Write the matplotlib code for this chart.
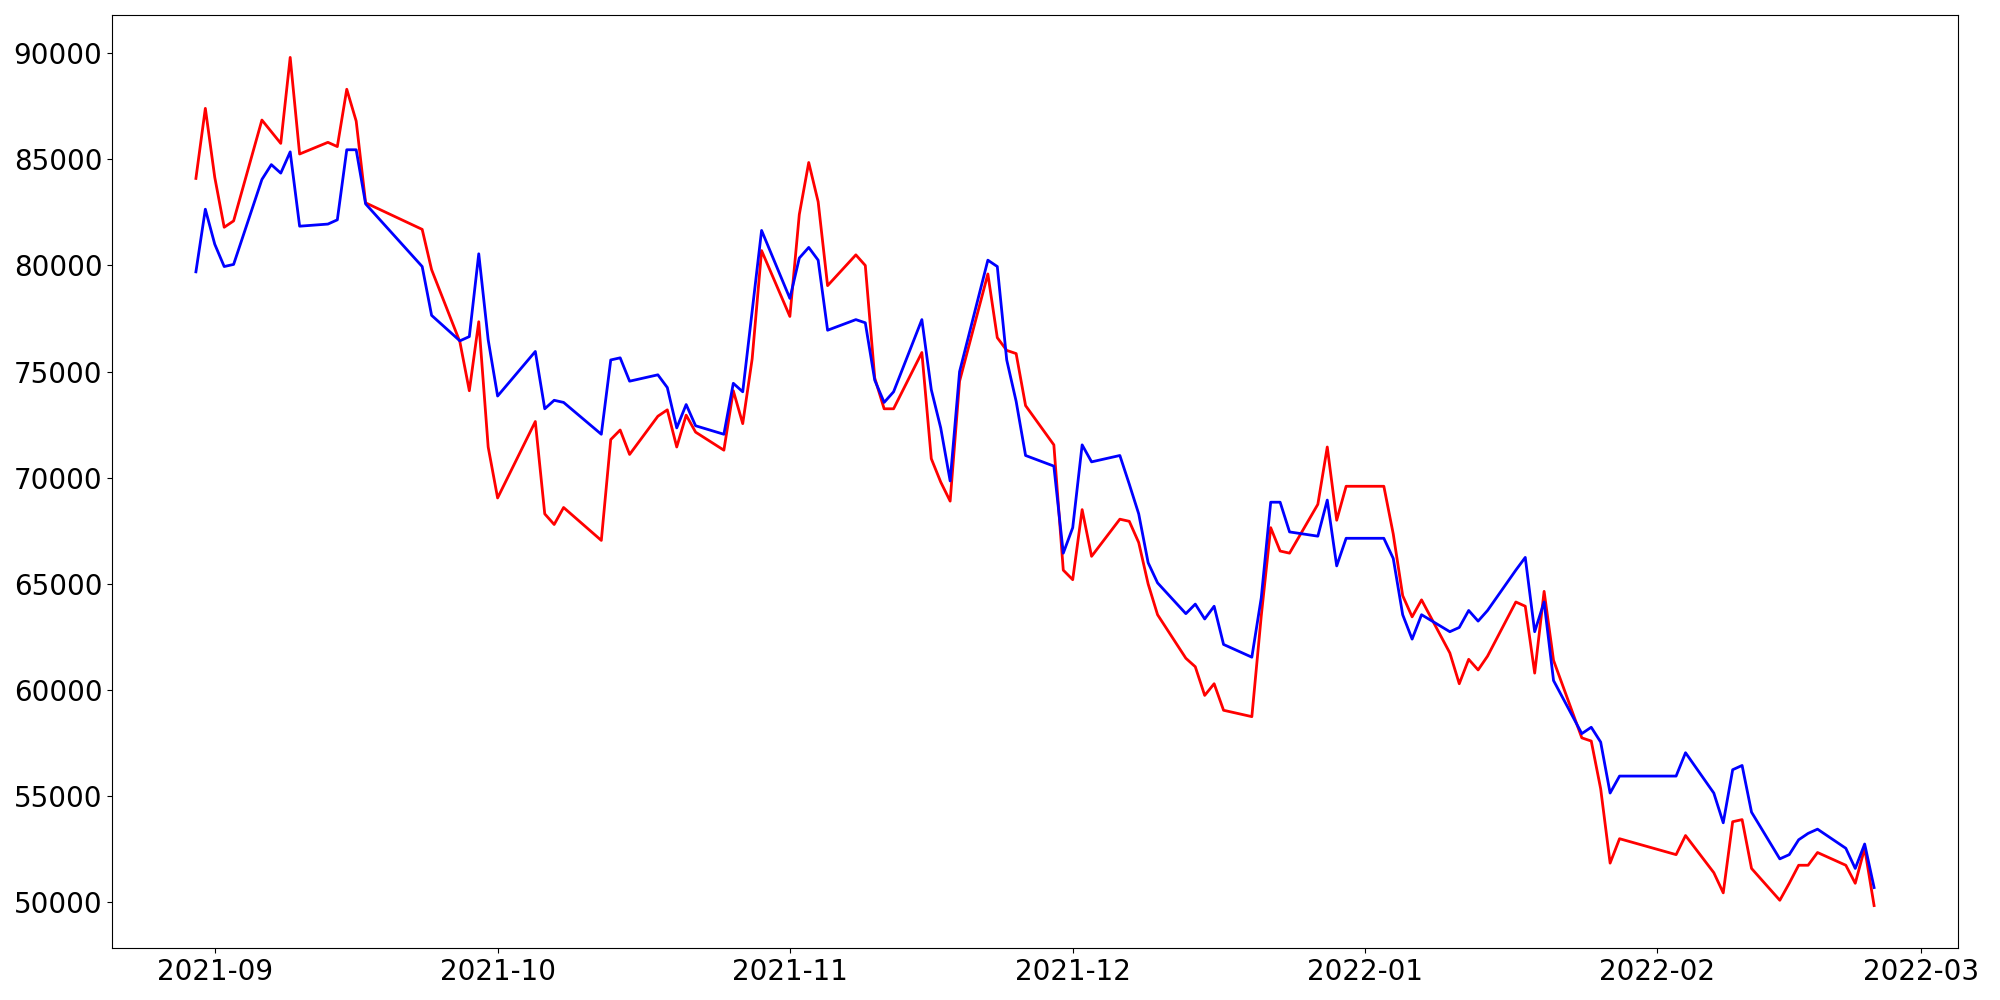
import pandas as pd
import matplotlib
matplotlib.use('Agg')
import matplotlib.pyplot as plt

# Даты торговых дней (пропуски как на исходном графике)
dates = pd.to_datetime([
    '2021-08-30', '2021-08-31', '2021-09-01', '2021-09-02', '2021-09-03',
    '2021-09-06', '2021-09-07', '2021-09-08', '2021-09-09', '2021-09-10',
    '2021-09-13', '2021-09-14', '2021-09-15', '2021-09-16', '2021-09-17',
    '2021-09-23', '2021-09-24',
    '2021-09-27', '2021-09-28', '2021-09-29', '2021-09-30',
    '2021-10-01',
    '2021-10-05', '2021-10-06', '2021-10-07', '2021-10-08',
    '2021-10-12', '2021-10-13', '2021-10-14', '2021-10-15',
    '2021-10-18', '2021-10-19', '2021-10-20', '2021-10-21', '2021-10-22',
    '2021-10-25', '2021-10-26', '2021-10-27', '2021-10-28', '2021-10-29',
    '2021-11-01', '2021-11-02', '2021-11-03', '2021-11-04', '2021-11-05',
    '2021-11-08', '2021-11-09', '2021-11-10', '2021-11-11', '2021-11-12',
    '2021-11-15', '2021-11-16', '2021-11-17', '2021-11-18', '2021-11-19',
    '2021-11-22', '2021-11-23', '2021-11-24', '2021-11-25', '2021-11-26',
    '2021-11-29', '2021-11-30',
    '2021-12-01', '2021-12-02', '2021-12-03',
    '2021-12-06', '2021-12-07', '2021-12-08', '2021-12-09', '2021-12-10',
    '2021-12-13', '2021-12-14', '2021-12-15', '2021-12-16', '2021-12-17',
    '2021-12-20', '2021-12-21', '2021-12-22', '2021-12-23', '2021-12-24',
    '2021-12-27', '2021-12-28', '2021-12-29', '2021-12-30', '2021-12-31',
    '2022-01-03', '2022-01-04', '2022-01-05', '2022-01-06', '2022-01-07',
    '2022-01-10', '2022-01-11', '2022-01-12', '2022-01-13', '2022-01-14',
    '2022-01-17', '2022-01-18', '2022-01-19', '2022-01-20', '2022-01-21',
    '2022-01-24', '2022-01-25', '2022-01-26', '2022-01-27', '2022-01-28',
    '2022-02-03', '2022-02-04',
    '2022-02-07', '2022-02-08', '2022-02-09', '2022-02-10', '2022-02-11',
    '2022-02-14', '2022-02-15', '2022-02-16', '2022-02-17', '2022-02-18',
    '2022-02-21', '2022-02-22', '2022-02-23', '2022-02-24',
])

# Красная линия
red_values = [
    84100, 87400, 84150, 81800, 82100, 86850, 86300, 85750, 89800, 85250,
    85800, 85600, 88300, 86800, 82950, 81700, 79800, 76400, 74100, 77350, 71450,
    69050, 72650, 68300, 67800, 68600, 67050, 71800, 72250, 71100, 72900,
    73200, 71450, 72950, 72150, 71300, 74100, 72550, 75600, 80700,
    77600, 82400, 84850, 83000, 79050, 80500, 80000, 74700, 73250, 73250,
    75900, 70900, 69800, 68900, 74550, 79600, 76600, 76000, 75850, 73400,
    71550, 65650,
    65200, 68500, 66300, 68050, 67950, 66950, 65000, 63550, 61500, 61100,
    59750, 60300, 59050, 58750, 63500, 67650, 66550, 66450, 68750, 71450,
    68000, 69600, 69600,
    69600, 67350, 64450, 63450, 64250, 61750, 60300, 61450, 60950, 61600,
    64150, 63950, 60800, 64650, 61400, 57750, 57600, 55350, 51850, 53000,
    52250, 53150, 51400, 50450, 53800, 53900, 51600, 50100, 50900, 51750,
    51750, 52350, 51750, 50900, 52550, 49850,
]

# Синяя линия
blue_values = [
    79700, 82650, 81000, 79950, 80050, 84050, 84750, 84350, 85350, 81850,
    81950, 82150, 85450, 85450, 82900, 79950, 77650, 76450, 76650, 80550, 76500,
    73850, 75950, 73250, 73650, 73550, 72050, 75550, 75650, 74550, 74850,
    74250, 72350, 73450, 72450, 72050, 74450, 74050, 77850, 81650,
    78450, 80350, 80850, 80250, 76950, 77450, 77300, 74600, 73550, 74050,
    77450, 74150, 72350, 69850, 75000, 80250, 79950, 75550, 73600, 71050,
    70550, 66450,
    67650, 71550, 70750, 71050, 69700, 68300, 66000, 65050, 63600, 64050,
    63350, 63950, 62150, 61550, 64350, 68850, 68850, 67450, 67250, 68950,
    65850, 67150, 67150,
    67150, 66200, 63550, 62400, 63550, 62750, 62950, 63750, 63250, 63750,
    65650, 66250, 62750, 64150, 60450, 57950, 58250, 57550, 55150, 55950,
    55950, 57050, 55150, 53750, 56250, 56450, 54250, 52050, 52250, 52950,
    53250, 53450, 52550, 51600, 52750, 50700,
]

# Построение графика
plt.figure(figsize=(20, 10), dpi=100)
plt.plot(dates, red_values, color='red', linewidth=2)
plt.plot(dates, blue_values, color='blue', linewidth=2)
plt.tick_params(labelsize=20)
plt.subplots_adjust(left=0.056, right=0.979, top=0.985, bottom=0.052)
plt.savefig('out.png')
